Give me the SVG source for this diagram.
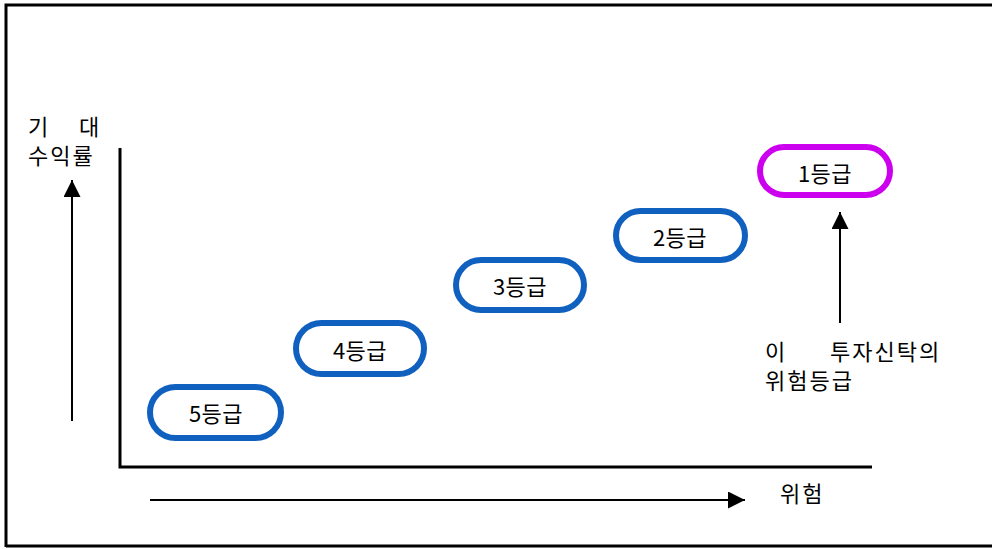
<svg xmlns="http://www.w3.org/2000/svg" width="992" height="549" viewBox="0 0 992 549">
<defs>
<style>
.t{font-family:"Noto Sans CJK KR","Noto Sans",sans-serif;font-size:22px;fill:#000}
.ls{letter-spacing:2px}
.c{text-anchor:middle;dominant-baseline:central;letter-spacing:0.5px}
.pill{fill:#fff;stroke-width:6}
.blue{stroke:#1060C0}
.mag{stroke:#CC00EE}
.ln{stroke:#000;stroke-width:2;fill:none}
.ax{stroke:#000;stroke-width:3;fill:none}
</style>
<marker id="ahb" viewBox="0 0 10 10" refX="10" refY="5" markerWidth="17" markerHeight="17" markerUnits="userSpaceOnUse" orient="auto">
<path d="M0,0 L10,5 L0,10 z" fill="#000"/>
</marker>
</defs>
<rect width="992" height="549" fill="#fff"/>
<g id="frame">
<path d="M6,547 L6,5 L992,5" class="ax" stroke-width="3.5"/>
<path d="M6,546 L992,546" class="ax"/>
</g>
<g id="axes">
<path d="M120,148 L120,467 L872,467" class="ax"/>
</g>
<g id="connectors">
<line x1="72" y1="421" x2="72" y2="180" class="ln" marker-end="url(#ahb)"/>
<line x1="840" y1="323" x2="840" y2="212" class="ln" marker-end="url(#ahb)"/>
<line x1="150" y1="500" x2="745" y2="500" class="ln" marker-end="url(#ahb)"/>
</g>
<g id="grade5"><rect class="pill blue" x="150" y="387" width="131" height="51" rx="25.5"/><text class="t c" x="216" y="412">5등급</text></g>
<g id="grade4"><rect class="pill blue" x="296" y="323" width="128" height="51" rx="25.5"/><text class="t c" x="360" y="349">4등급</text></g>
<g id="grade3"><rect class="pill blue" x="456" y="260" width="128" height="50" rx="25"/><text class="t c" x="520" y="285">3등급</text></g>
<g id="grade2"><rect class="pill blue" x="616" y="211" width="129" height="49" rx="24.5"/><text class="t c" x="680" y="236">2등급</text></g>
<g id="grade1"><rect class="pill mag" x="760" y="147" width="130" height="48" rx="24"/><text class="t c" x="825" y="172">1등급</text></g>
<g id="ylabel"><text class="t" y="135"><tspan x="28">기</tspan><tspan x="79">대</tspan></text><text class="t ls" x="28" y="164">수익률</text></g>
<g id="note"><text class="t ls" y="360"><tspan x="765">이</tspan><tspan x="830">투자신탁의</tspan></text><text class="t ls" x="765" y="389">위험등급</text></g>
<g id="xlabel"><text class="t ls" x="780" y="502">위험</text></g>
</svg>
